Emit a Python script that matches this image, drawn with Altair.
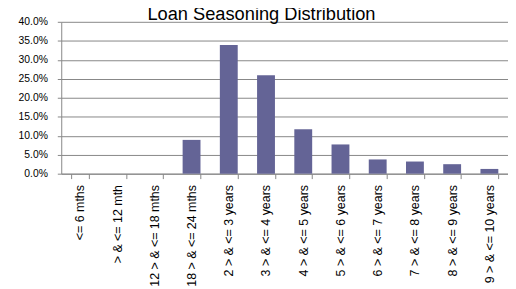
import altair as alt
import pandas as pd

title_text = "Loan Seasoning Distribution"
categories = ["<= 6 mths", "> & <= 12 mth", "12 > & <= 18 mths", "18 > & <= 24 mths",
              "2 > & <= 3 years", "3 > & <= 4 years", "4 > & <= 5 years", "5 > & <= 6 years",
              "6 > & <= 7 years", "7 > & <= 8 years", "8 > & <= 9 years", "9 > & <= 10 years"]
shares = [0.0, 0.0, 0.0, 0.089, 0.339, 0.259, 0.117, 0.077, 0.0375, 0.032, 0.025, 0.0125]
y_ticks = [0, 0.05, 0.10, 0.15, 0.20, 0.25, 0.30, 0.35, 0.40]

df = pd.DataFrame({"cat": categories, "share": shares})

FONT = "Liberation Sans"
GREY = "#868686"

bars = alt.Chart(df).mark_bar(color="#646496").encode(
    x=alt.X("cat:N", sort=categories, title=None,
            scale=alt.Scale(paddingInner=0.52, paddingOuter=0.26),
            axis=alt.Axis(labelAngle=-90, labelAlign="right", labelBaseline="middle",
                          tickBand="extent", tickSize=5, labelPadding=6,
                          domainColor=GREY, tickColor=GREY, grid=False,
                          labelFont=FONT, labelFontSize=12.6, labelColor="#000000")),
    y=alt.Y("share:Q", title=None,
            scale=alt.Scale(domain=[0, 0.4], nice=False),
            axis=alt.Axis(values=y_ticks, format=".1%", tickSize=4, labelPadding=10,
                          domainColor=GREY, tickColor=GREY, gridColor=GREY,
                          gridWidth=1, labelFont=FONT, labelFontSize=10.5, labelColor="#000000")),
)

title = alt.Chart(pd.DataFrame({"t": [title_text]})).mark_text(
    font=FONT, fontSize=18.5, color="#000000", align="center", baseline="alphabetic"
).encode(text="t:N", x=alt.value(203), y=alt.value(-1.5))

chart = alt.layer(bars, title).properties(
    width=453, height=154,
    autosize="none",
    padding={"left": 54, "top": 12, "right": 0, "bottom": 120},
).configure_view(stroke=None)

chart.save("out.html", embed_options={"renderer": "svg", "actions": False})
